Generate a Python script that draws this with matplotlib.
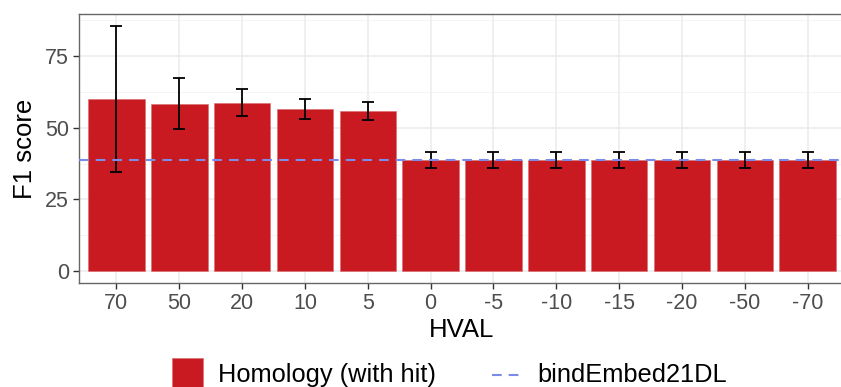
import matplotlib
matplotlib.use("Agg")
import matplotlib.pyplot as plt
from matplotlib.patches import Rectangle
from matplotlib.lines import Line2D
import numpy as np

plt.rcParams['font.family'] = ['Liberation Sans', 'DejaVu Sans']
plt.rcParams['lines.scale_dashes'] = False

categories = ["70", "50", "20", "10", "5", "0", "-5", "-10", "-15", "-20", "-50", "-70"]
f1_values = [60.0, 58.4, 58.7, 56.5, 55.8, 38.7, 38.7, 38.7, 38.7, 38.7, 38.7, 38.7]
err_low = [34.7, 49.7, 54.0, 53.0, 52.7, 35.9, 35.9, 35.9, 35.9, 35.9, 35.9, 35.9]
err_high = [85.4, 67.4, 63.4, 60.0, 58.9, 41.6, 41.6, 41.6, 41.6, 41.6, 41.6, 41.6]
baseline = 38.7
yticks = [0, 25, 50, 75]

W, H = 841, 387
fig = plt.figure(figsize=(W / 100, H / 100), dpi=100)
ax = fig.add_axes([78.7 / W, (H - 283.3) / H, 766.7 / W, 269.3 / H])

x = np.arange(len(categories))
bar_color = "#C81A20"
ax.bar(x, f1_values, width=0.9, color=bar_color, zorder=2, edgecolor="#D86A6E", linewidth=0.4)
vals = np.array(f1_values)
yerr = np.vstack([vals - np.array(err_low), np.array(err_high) - vals])
ax.errorbar(x, vals, yerr=yerr, fmt="none", ecolor="black", elinewidth=1.3,
            capsize=4.2, capthick=1.3, zorder=3)
ax.axhline(baseline, color="#7C8CE6", linewidth=1.5, linestyle=(0, (7, 5)), zorder=4)

ax.set_xlim(-0.6, len(categories) - 1 + 0.6)
ax.set_ylim(-4.27, 89.67)
ax.set_xticks(x)
ax.set_xticklabels(categories)
ax.set_yticks(yticks)
ax.set_yticks([12.5, 37.5, 62.5, 87.5], minor=True)
ax.tick_params(axis="both", which="major", labelsize=15.5, colors="#333333",
               labelcolor="#4D4D4D", length=4, width=1.0, pad=3)
ax.tick_params(axis="y", which="minor", length=0)
ax.grid(True, which="major", color="#EBEBEB", linewidth=1.1, zorder=0)
ax.grid(True, which="minor", axis="y", color="#F2F2F2", linewidth=0.6, zorder=0)
ax.set_axisbelow(True)
for s in ax.spines.values():
    s.set_color("#666666")
    s.set_linewidth(1.0)

ax.set_xlabel("HVAL", fontsize=18.5, color="black", labelpad=3)
ax.set_ylabel("F1 score", fontsize=18.5, color="black", labelpad=6)

# Legend (bottom, partially cropped as in reference)
def fx(px):
    return px / W

def fy(py):
    return (H - py) / H

fig.patches.append(Rectangle((fx(172), fy(389)), 31 / W, 31 / H, transform=fig.transFigure,
                             facecolor=bar_color, edgecolor="#D86A6E", linewidth=0.4))
fig.text(fx(218), fy(375), "Homology (with hit)", fontsize=18.3, va="center", ha="left", color="black")
fig.lines.append(Line2D([fx(492), fx(521)], [fy(375), fy(375)], transform=fig.transFigure,
                        color="#7C8CE6", linewidth=1.5, linestyle=(0, (7, 5))))
fig.text(fx(537), fy(375), "bindEmbed21DL", fontsize=18.3, va="center", ha="left", color="black")

fig.savefig("out.png", dpi=100)
